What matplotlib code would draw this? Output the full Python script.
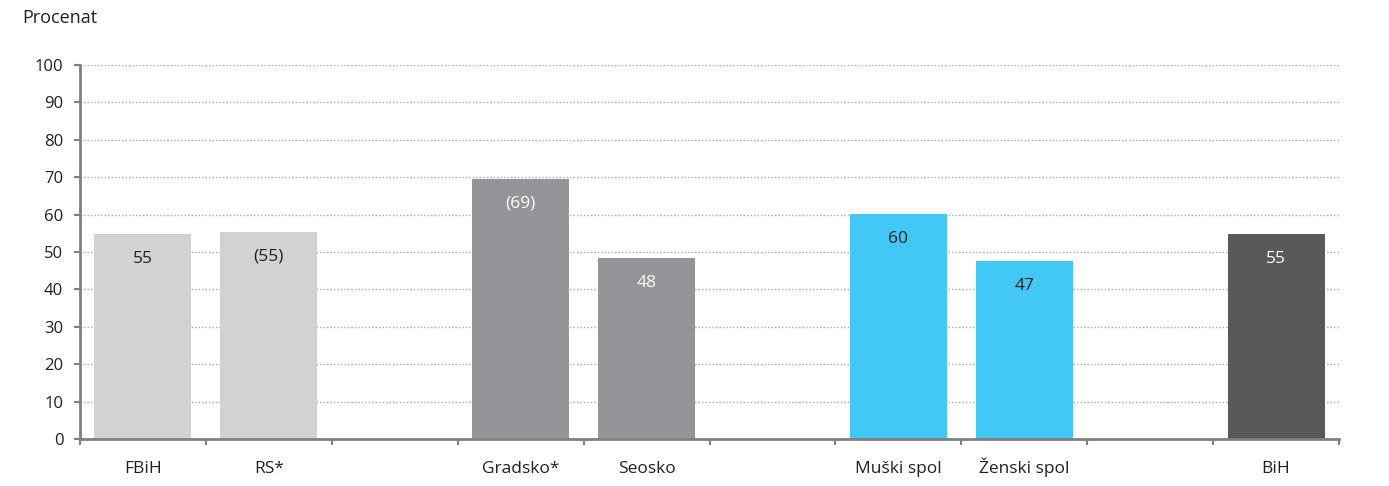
import matplotlib
matplotlib.use("Agg")
import matplotlib.pyplot as plt

plt.rcParams['font.family'] = ['Open Sans', 'DejaVu Sans']

categories = ["FBiH", "RS*", "", "Gradsko*", "Seosko", "", "Muški spol", "Ženski spol", "", "BiH"]
values = [54.8, 55.3, None, 69.5, 48.3, None, 60.2, 47.6, None, 54.8]
value_labels = ["55", "(55)", "", "(69)", "48", "", "60", "47", "", "55"]
bar_colors = ["#d1d2d4", "#d1d2d4", None, "#939598", "#939598", None, "#41c8f5", "#41c8f5", None, "#58595b"]
label_colors = ["#231f20", "#231f20", None, "#ffffff", "#ffffff", None, "#231f20", "#231f20", None, "#ffffff"]
yticks = [0, 10, 20, 30, 40, 50, 60, 70, 80, 90, 100]

fig = plt.figure(figsize=(13.89, 4.86), dpi=100)
ax = fig.add_axes([80/1389, 1-439/486, 1259/1389, 374/486])

axis_color = "#808083"
for t in yticks[1:]:
    ax.axhline(t, color="#a7a9ac", linestyle=(0, (1, 1.5)), linewidth=1.0, zorder=0)

for i, (v, c) in enumerate(zip(values, bar_colors)):
    if v is None:
        continue
    ax.bar(i, v, width=0.77, color=c, zorder=2)
    ax.text(i, v - 6.6, value_labels[i], ha="center", va="center",
            fontsize=12.5, color=label_colors[i], zorder=3)

ax.set_xlim(-0.5, 9.5)
ax.set_ylim(0, 100)
ax.set_yticks(yticks)
ax.set_yticklabels([str(t) for t in yticks], fontsize=12, color="#231f20")

ax.set_xticks([x - 0.5 for x in range(11)])
ax.set_xticklabels([])
for i, cat in enumerate(categories):
    if cat:
        ax.annotate(cat, xy=(i, 0), xycoords=("data", "axes fraction"),
                    xytext=(0, -24.5), textcoords="offset points",
                    ha="center", va="baseline", fontsize=12.5, color="#231f20")
ax.tick_params(axis="x", which="major", length=4, width=1.5, color=axis_color, direction="out")
ax.tick_params(axis="y", length=4, width=1.5, color=axis_color, pad=8)

for s in ["top", "right"]:
    ax.spines[s].set_visible(False)
for s in ["left", "bottom"]:
    ax.spines[s].set_color(axis_color)
    ax.spines[s].set_linewidth(2)

fig.text(22/1389, 1-18/486, "Procenat", fontsize=13, color="#231f20", ha="left", va="center")

fig.savefig("out.png", dpi=100)
